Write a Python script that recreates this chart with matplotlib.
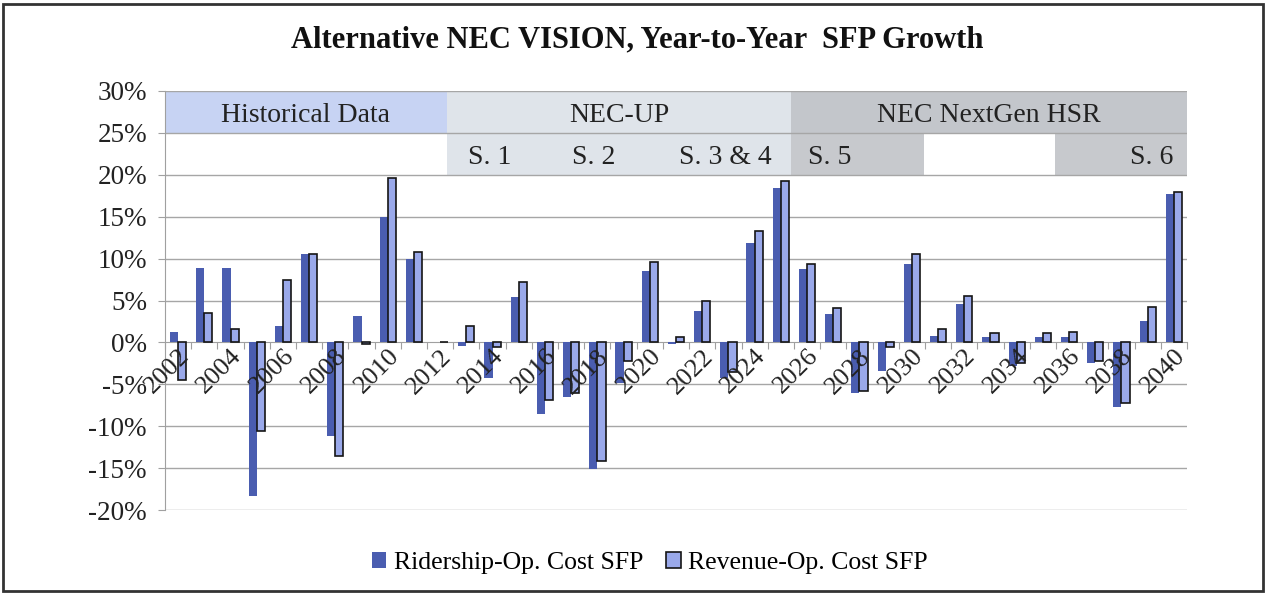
import matplotlib
matplotlib.use("Agg")
import matplotlib.pyplot as plt
from matplotlib.patches import Rectangle, Patch
import numpy as np

years = list(range(2002, 2041))
ridership = [1.2, 8.9, 8.9, -18.3, 1.9, 10.5, -11.2, 3.2, 15.0, 10.0, 0.0,
             -0.4, -4.2, 5.4, -8.5, -6.5, -15.1, -4.9, 8.5, -0.2, 3.7, -4.3,
             11.9, 18.4, 8.8, 3.4, -6.0, -3.4, 9.4, 0.8, 4.6, 0.6, -2.8, 0.7,
             0.7, -2.4, -7.7, 2.6, 17.7]
revenue = [-4.5, 3.5, 1.6, -10.6, 7.4, 10.5, -13.6, -0.2, 19.6, 10.8, 0.0,
           1.9, -0.5, 7.2, -6.9, -6.0, -14.2, -2.2, 9.6, 0.6, 4.9, -3.5,
           13.3, 19.3, 9.4, 4.1, -5.8, -0.5, 10.5, 1.6, 5.5, 1.1, -2.4, 1.1,
           1.2, -2.2, -7.2, 4.2, 18.0]
series_names = ["Ridership-Op. Cost SFP", "Revenue-Op. Cost SFP"]
yticks = [-20, -15, -10, -5, 0, 5, 10, 15, 20, 25, 30]

# header bands
row1 = [(-0.5, 10.25, "#c7d3f3", "Historical Data"),
        (10.25, 23.4, "#dfe4ea", "NEC-UP"),
        (23.4, 38.5, "#c3c6cb", "NEC NextGen HSR")]
row2 = [(10.25, 23.4, "#dfe4ea"),
        (23.4, 28.45, "#c7c9cd"),
        (33.46, 38.5, "#c7c9cd")]
row2_labels = [("S. 1", 11.9), ("S. 2", 15.85), ("S. 3 & 4", 20.9),
               ("S. 5", 24.85), ("S. 6", 37.15)]

plt.rcParams['font.family'] = ['Liberation Serif', 'DejaVu Serif']

fig = plt.figure(figsize=(12.67, 5.93), dpi=100)
ax = fig.add_axes([165/1267, 1 - 510/593, (1187-165)/1267, (510-91)/593])
ax.set_axisbelow(False)

x = np.arange(len(years))
w = 0.31
dark = "#4a5db0"
light = "#9aa9ea"
ax.bar(x - w/2, ridership, width=w, color=dark, edgecolor='none', zorder=2,
       label=series_names[0])
ax.bar(x + w/2, revenue, width=w, color=light, edgecolor='#151515',
       linewidth=1.2, zorder=2.1, label=series_names[1])

ax.set_xlim(-0.5, 38.5)
ax.set_ylim(-20, 30)

for x0, x1, c, lab in row1:
    ax.add_patch(Rectangle((x0, 25), x1 - x0, 5, facecolor=c, edgecolor='none', zorder=0.3))
    ax.text((x0 + x1) / 2, 27.1, lab, ha='center', va='center', fontsize=20,
            color='#222222', zorder=3)
for x0, x1, c in row2:
    ax.add_patch(Rectangle((x0, 20), x1 - x0, 5, facecolor=c, edgecolor='none', zorder=0.3))
for lab, xx in row2_labels:
    ax.text(xx, 22.1, lab, ha='center', va='center', fontsize=20,
            color='#222222', zorder=3)

for t in yticks:
    if t != 0:
        ax.axhline(t, color='#a6a6a6', linewidth=1.0, zorder=0.6)

ax.set_yticks(yticks)
ax.set_yticklabels([f"{t}%" for t in yticks], fontsize=19.5)
ax.tick_params(axis='y', length=5, color='#a0a0a0', pad=8, labelcolor='#222222')

ax.spines['top'].set_visible(False)
ax.spines['right'].set_visible(False)
ax.spines['left'].set_color('#a0a0a0')
ax.spines['left'].set_zorder(0.7)
ax.spines['bottom'].set_position(('data', 0))
ax.spines['bottom'].set_color('#a0a0a0')
ax.spines['bottom'].set_zorder(1.9)

ax.set_xticks(np.arange(-0.5, 39, 1))
ax.set_xticklabels([])
ax.tick_params(axis='x', which='major', length=5, color='#a0a0a0')
ax.set_xticks(x[::2], minor=True)
ax.set_xticklabels([str(y) for y in years[::2]], minor=True, rotation=45,
                   ha='right', va='top', rotation_mode='anchor', fontsize=19,
                   color='#222222')
ax.tick_params(axis='x', which='minor', length=0, pad=2)

fig.text(0.503, 1 - 40/593, "Alternative NEC VISION, Year-to-Year  SFP Growth",
         ha='center', va='center', fontsize=22, fontweight='bold', color='#111111')

handles = [Patch(facecolor=dark, edgecolor='none'),
           Patch(facecolor=light, edgecolor='#151515', linewidth=1.2)]
fig.legend(handles, series_names, loc='center', bbox_to_anchor=(0.513, 1 - 563/593),
           ncol=2, frameon=False, fontsize=18.5, handlelength=0.55, handleheight=0.6,
           handletextpad=0.3, columnspacing=0.9)

fig.add_artist(Rectangle((0.002, 0.004), 0.995, 0.99, transform=fig.transFigure,
                         fill=False, edgecolor='#333333', linewidth=2))

fig.savefig("out.png", dpi=100)
